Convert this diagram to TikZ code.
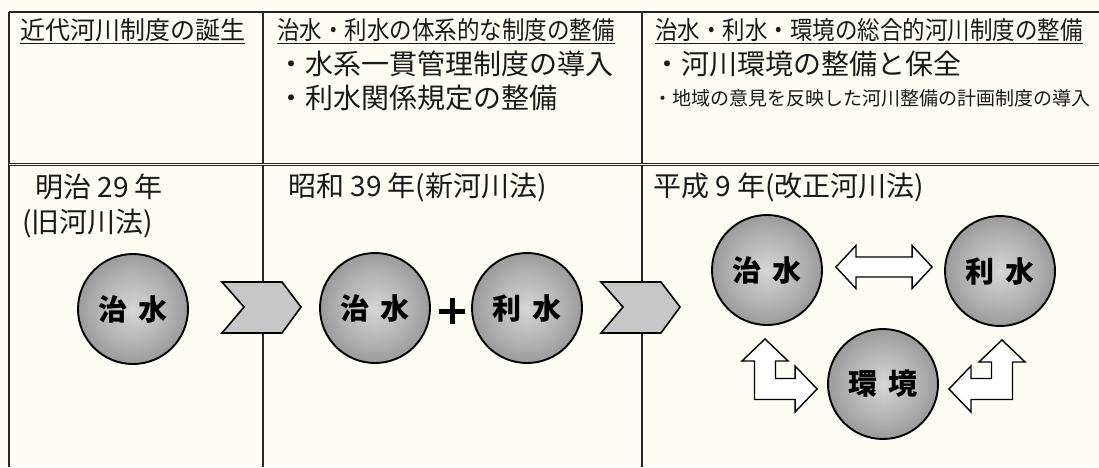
\documentclass[tikz,border=0pt]{standalone}
\usepackage{fontspec}
\setmainfont{Noto Sans CJK JP}
\usepackage{graphicx}
\usepackage{xcolor}
\usetikzlibrary{calc}
\usetikzlibrary{positioning}

\definecolor{paper}{RGB}{253,253,246}
\pgfdeclareradialshading{orbshade}{\pgfpoint{0bp}{0bp}}{color(0bp)=(black!16); color(18bp)=(black!32); color(50bp)=(black!66)}

\tikzset{
  orb/.style={circle, draw=black, line width=1.9pt, minimum size=110pt, inner sep=0pt,
    shading=orbshade, text=black, font=\bfseries\fontsize{29}{29}\selectfont},
  chev/.style={draw=black, line width=1.6pt, fill=black!22, line join=miter},
  hollow/.style={draw=black, line width=1.4pt, fill=white, line join=miter},
  tabline/.style={black!85, line width=1.5pt},
  hdtext/.style={anchor=west, inner xsep=0pt, inner ysep=2pt, text=black!90,
    font=\fontsize{25}{25}\selectfont},
  txt/.style={anchor=west, inner sep=0pt, text=black!90, font=\fontsize{28}{28}\selectfont},
}

\begin{document}
\begin{tikzpicture}[x=1pt,y=-1pt]
\useasboundingbox (0,0) rectangle (1099,467);
\fill[paper] (0,0) rectangle (1099,467);

% table
\draw[tabline] (9,12)--(1099,12);
\foreach \x in {9,263,642} {
 \draw[tabline] (\x,12)--(\x,467);
 }
\draw[tabline, line width=1.1pt, double=paper, double distance=1.4pt] (9,164.5)--(1099,164.5);

% headings
\node[hdtext] (h1) at (20,30) {近代河川制度の誕生};
\node[hdtext] (h2) at (277,30) {\scalebox{.9}[1]{治水・利水の体系的な制度の整備}};
\node[hdtext] (h3) at (655,30) {\scalebox{.9}[1]{治水・利水・環境の総合的河川制度の整備}};
\foreach \h in {h1,h2,h3} {
 \draw[line width=1.2pt, black!90] (\h.south west)--(\h.south east);
 }
\node[txt] (b1) at (277,64) {・水系一貫管理制度の導入};
\node[txt] (b2) at (277,98) {・利水関係規定の整備};
\node[txt] (b3) at (653,64) {・河川環境の整備と保全};
\node[txt, font=\fontsize{19}{19}\selectfont] (b4) at (653,98) {・地域の意見を反映した河川整備の計画制度の導入};

% years
\node[txt] (y1) at (35,187) {明治 29 年};
\node[txt] (y1b) at (22,223) {(旧河川法)};
\node[txt] (y2) at (288,187) {昭和 39 年(新河川法)};
\node[txt] (y3) at (653,187) {平成 9 年(改正河川法)};

% circles
\node[orb] (chisui1) at (133,309) {治\hspace{.4em}水};
\node[orb] (chisui2) at (375,308) {治\hspace{.4em}水};
\node[orb] (risui2) at (527,308) {利\hspace{.4em}水};
\node[orb] (chisui3) at (767,270) {治\hspace{.4em}水};
\node[orb] (risui3) at (1000,271) {利\hspace{.4em}水};
\node[orb] (kankyo) at (883,384) {環\hspace{.4em}境};

% chevrons and plus
\foreach \x in {222,601} {
 \draw[chev] (\x,282)--++(60,0)--++(19,25)--++(-19,26)--++(-60,0)--++(22,-26)--cycle;
 }
\draw[line width=5pt] (439,311)--(465,311) (452,298)--(452,324);

% arrows between the three
\coordinate (dl) at ($(chisui3.east)+(13,-3)$);
\coordinate (dr) at ($(risui3.west)+(-12,-4)$);
\draw[hollow] (dl)--++(20,-21.5)--++(0,11.5)--($(dr)+(-20,-10)$)--++(0,-11.5)--(dr)
  --++(-20,21.5)--++(0,-11.5)--($(dl)+(20,10)$)--++(0,11.5)--cycle;
\foreach \top/\side/\s in {chisui3/west/1,risui3/east/-1} {
 \coordinate (ut) at ($(\top.south)+(-2*\s,13)$);
 \coordinate (st) at ($(kankyo.\side)+(-10*\s,5)$);
 \draw[hollow] (ut)--++(23*\s,22)--++(-12.5*\s,0)|-($(st)+(-22*\s,-10.5)$)--++(0,-12.5)--(st)
   --++(-22*\s,23)--++(0,-12.5)-|($(ut)+(-10.5*\s,22)$)--++(-12.5*\s,0)--cycle;
 }
\end{tikzpicture}
\end{document}
